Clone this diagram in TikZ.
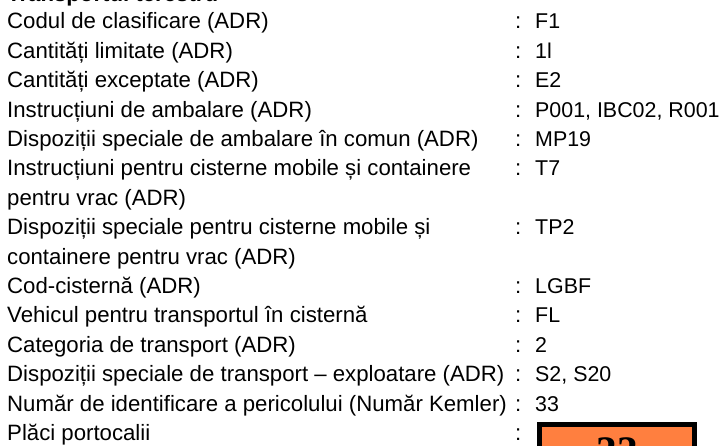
\documentclass[tikz,border=0pt]{standalone}
\usepackage{fontspec}
\setmainfont{Liberation Sans}
\newfontfamily\platefont{Liberation Serif}
\usepackage{tikz}
\usetikzlibrary{positioning}
\definecolor{plateorange}{RGB}{255,127,63}
\tikzstyle{field} = [
anchor=base west,
inner sep=0pt,
align=left,
font=\fontsize{22.2}{29.4}\selectfont
]
\tikzstyle{heading} = [
field,
font=\fontsize{22.2}{29.4}\selectfont\bfseries
]
\tikzstyle{sep} = [
field
]
\tikzstyle{value} = [
field,
font=\fontsize{21.4}{29.4}\selectfont
]
\tikzstyle{plate} = [
rectangle,
draw=black,
fill=plateorange,
line width=5pt,
outer sep=0pt,
inner xsep=0pt,
inner ysep=12.5pt,
minimum width=155pt,
text height=28.4pt,
text depth=80pt,
anchor=north,
font=\platefont\fontsize{42}{42}\selectfont\bfseries
]
\begin{document}
\begin{tikzpicture}[x=1pt,y=-29.4pt]
					\useasboundingbox (0,-0.986) rectangle (721,14.15);
					%Labels
					\node[heading] (title) at (7,-0.95) {Transportul terestru};
					\node[field] (clasif) at (7,0) {Codul de clasificare (ADR)};
					\node[field] (limit) at (7,1) {Cantități limitate (ADR)};
					\node[field] (except) at (7,2) {Cantități exceptate (ADR)};
					\node[field] (ambal) at (7,3) {Instrucțiuni de ambalare (ADR)};
					\node[field] (comun) at (7,4) {Dispoziții speciale de ambalare în comun (ADR)};
					\node[field] (instrcist) at (7,6) {Instrucțiuni pentru cisterne mobile și containere\\pentru vrac (ADR)};
					\node[field] (dispcist) at (7,8) {Dispoziții speciale pentru cisterne mobile și\\containere pentru vrac (ADR)};
					\node[field] (codcist) at (7,9) {Cod-cisternă (ADR)};
					\node[field] (vehicul) at (7,10) {Vehicul pentru transportul în cisternă};
					\node[field] (categ) at (7,11) {Categoria de transport (ADR)};
					\node[field] (exploat) at (7,12) {Dispoziții speciale de transport – exploatare (ADR)};
					\node[field] (kemler) at (7,13) {Număr de identificare a pericolului (Număr Kemler)};
					\node[field] (placi) at (7,14) {Plăci portocalii};
					%Colons
					\node[sep] (sclasif) at (515,0) {:};
					\node[sep] (slimit) at (515,1) {:};
					\node[sep] (sexcept) at (515,2) {:};
					\node[sep] (sambal) at (515,3) {:};
					\node[sep] (scomun) at (515,4) {:};
					\node[sep] (sinstrcist) at (515,5) {:};
					\node[sep] (sdispcist) at (515,7) {:};
					\node[sep] (scodcist) at (515,9) {:};
					\node[sep] (svehicul) at (515,10) {:};
					\node[sep] (scateg) at (515,11) {:};
					\node[sep] (sexploat) at (515,12) {:};
					\node[sep] (skemler) at (515,13) {:};
					\node[sep] (splaci) at (515,14) {:};
					%Values
					\node[value] (vclasif) at (535,0) {F1};
					\node[value] (vlimit) at (535,1) {1l};
					\node[value] (vexcept) at (535,2) {E2};
					\node[value] (vambal) at (535,3) {P001, IBC02, R001};
					\node[value] (vcomun) at (535,4) {MP19};
					\node[value] (vinstrcist) at (535,5) {T7};
					\node[value] (vdispcist) at (535,7) {TP2};
					\node[value] (vcodcist) at (535,9) {LGBF};
					\node[value] (vvehicul) at (535,10) {FL};
					\node[value] (vcateg) at (535,11) {2};
					\node[value] (vexploat) at (535,12) {S2, S20};
					\node[value] (vkemler) at (535,13) {33};
					\node[plate] (vplaci) at (617,13.452) {33};
				\end{tikzpicture}
\end{document}
